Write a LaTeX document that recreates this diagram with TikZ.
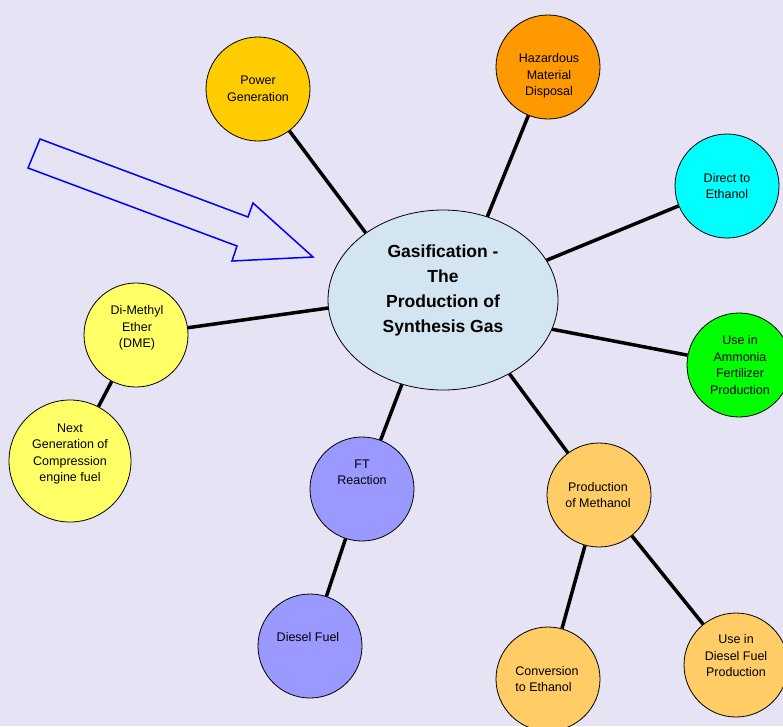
\documentclass[tikz,border=0pt]{standalone}
\usepackage{fontspec}
\setmainfont{Liberation Sans}
\usetikzlibrary{shapes.geometric}
\definecolor{bg}{HTML}{E6E4F4}
\definecolor{cPower}{HTML}{FFCC00}
\definecolor{cHaz}{HTML}{FF9900}
\definecolor{cDirect}{HTML}{00FFFF}
\definecolor{cAmm}{HTML}{00FF00}
\definecolor{cDME}{HTML}{FFFF66}
\definecolor{cFT}{HTML}{9999FF}
\definecolor{cMeth}{HTML}{FFCC66}
\definecolor{cGas}{HTML}{D3E5F1}
\definecolor{cArrow}{HTML}{0000FF}
\begin{document}
\begin{tikzpicture}[x=1pt,y=-1pt,
  bub/.style={circle,draw=black,line width=0.8pt,minimum size=104pt,inner sep=0pt},
  lbl/.style={align=center,font=\fontsize{12.5}{16.5}\selectfont,inner sep=0pt},
  link/.style={line width=3.5pt}]
\fill[bg] (0,0) rectangle (783,726);
\useasboundingbox (0,0) rectangle (783,726);

% arrow
\draw[cArrow, line width=1.5pt, line join=miter]
  (40,139) -- (248,217) -- (253,203) -- (313,257) -- (232,261) -- (237,246) -- (28,168) -- cycle;

% central ellipse
\node[ellipse, draw=black, line width=0.8pt, fill=cGas, minimum width=230pt, minimum height=180pt, inner sep=0pt] (gas) at (443,300) {};
\node[align=center, inner sep=0pt, font=\bfseries\fontsize{17.5}{25}\selectfont] (gast) at (443,290) {Gasification -\\The\\Production of\\Synthesis Gas};

% bubbles
\node[bub, fill=cPower] (power) at (258,89) {};
\node[lbl] (powert) at (258,89) {Power\\Generation};

\node[bub, fill=cHaz] (haz) at (548,67) {};
\node[lbl] (hazt) at (549,76) {Hazardous\\Material\\Disposal};

\node[bub, fill=cDirect] (direct) at (727,186) {};
\node[lbl] (directt) at (727,186) {Direct to\\Ethanol};

\node[bub, fill=cAmm] (amm) at (739,365) {};
\node[lbl] (ammt) at (740,365) {Use in\\Ammonia\\Fertilizer\\Production};

\node[bub, fill=cDME] (dme) at (136,335) {};
\node[lbl] (dmet) at (137,328) {Di-Methyl\\Ether\\(DME)};

\node[bub, fill=cDME, minimum size=122pt] (next) at (70,461) {};
\node[lbl] (nextt) at (70,454) {Next\\Generation of\\Compression\\engine fuel};

\node[bub, fill=cFT] (ft) at (362,489) {};
\node[lbl] (ftt) at (362,472) {FT\\Reaction};

\node[bub, fill=cFT] (diesel) at (310,646) {};
\node[lbl] (dieselt) at (308,637) {Diesel Fuel};

\node[bub, fill=cMeth] (meth) at (599,495) {};
\node[lbl] (metht) at (598,495) {Production\\of Methanol};

\node[bub, fill=cMeth] (conv) at (548,679) {};
\node[lbl, align=left] (convt) at (547,679) {Conversion\\to Ethanol};

\node[bub, fill=cMeth] (usedf) at (736,665) {};
\node[lbl] (usedft) at (736,656) {Use in\\Diesel Fuel\\Production};

% connectors
\draw[link] (gas.139) -- (power);
\draw[link] (gas.62) -- (haz);
\draw[link] (gas.21) -- (direct);
\draw[link] (gas.-15) -- (amm);
\draw[link] (gas.-48) -- (meth);
\draw[link] (gas.-116) -- (ft);
\draw[link] (gas.184) -- (dme);
\draw[link] (dme) -- (next);
\draw[link] (ft) -- (diesel);
\draw[link] (meth) -- (conv);
\draw[link] (meth) -- (usedf);
\end{tikzpicture}
\end{document}
